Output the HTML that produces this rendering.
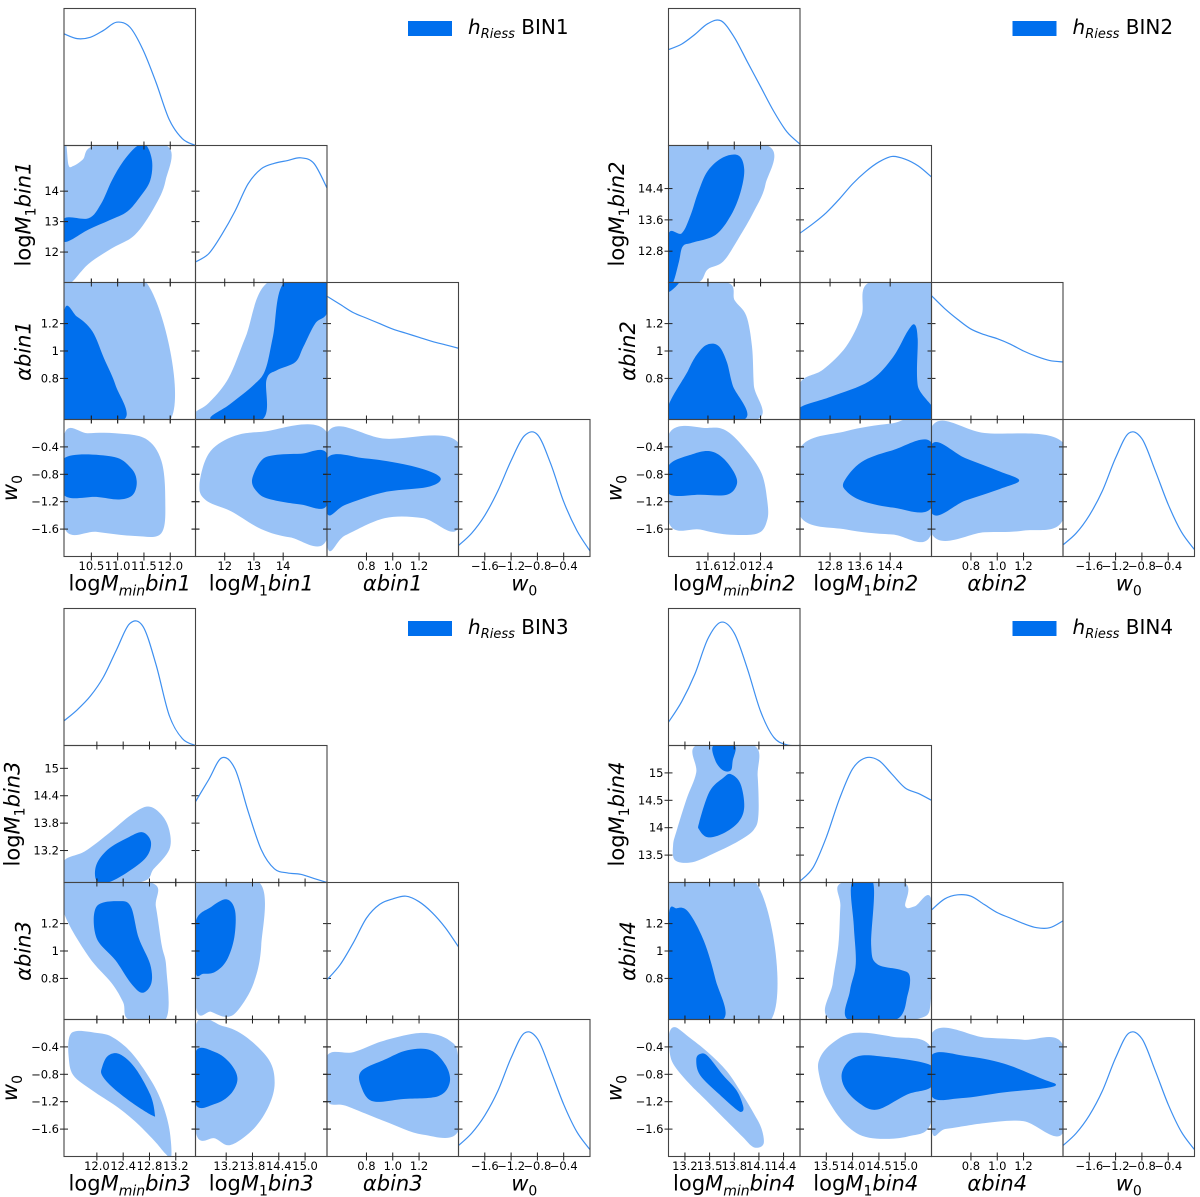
<!DOCTYPE html>
<html><head><meta charset="utf-8">
<style>
html,body{margin:0;padding:0;background:#fff;}
svg{display:block;font-family:"DejaVu Sans","Liberation Sans",sans-serif;}
</style></head>
<body>
<svg id="chart" width="1200" height="1197" viewBox="0 0 1200 1197" xmlns="http://www.w3.org/2000/svg"></svg>
<script>
// ---------------- data ----------------
const limBin1 = [[9.98,12.48],[11.0,15.5],[0.5,1.5],[-2.0,0.0]];
const limBin2 = [[11.0,13.0],[12.0,15.5],[0.5,1.5],[-2.0,0.0]];
const limBin3 = [[11.5,13.5],[12.5,15.5],[0.5,1.5],[-2.0,0.0]];
const limBin4 = [[13.0,14.6],[13.0,15.5],[0.5,1.5],[-2.0,0.0]];
const ticksBin1 = [[10.5,11.0,11.5,12.0],[12,13,14],[0.8,1.0,1.2],[-1.6,-1.2,-0.8,-0.4]];
const ticksBin2 = [[11.6,12.0,12.4],[12.8,13.6,14.4],[0.8,1.0,1.2],[-1.6,-1.2,-0.8,-0.4]];
const ticksBin3 = [[12.0,12.4,12.8,13.2],[13.2,13.8,14.4,15.0],[0.8,1.0,1.2],[-1.6,-1.2,-0.8,-0.4]];
const ticksBin4 = [[13.2,13.5,13.8,14.1,14.4],[13.5,14.0,14.5,15.0],[0.8,1.0,1.2],[-1.6,-1.2,-0.8,-0.4]];
const xLabBin1 = [["10.5","11.0","11.5","12.0"],["12","13","14"],["0.8","1.0","1.2"],["−1.6","−1.2","−0.8","−0.4"]];
const xLabBin2 = [["11.6","12.0","12.4"],["12.8","13.6","14.4"],["0.8","1.0","1.2"],["−1.6","−1.2","−0.8","−0.4"]];
const xLabBin3 = [["12.0","12.4","12.8","13.2"],["13.2","13.8","14.4","15.0"],["0.8","1.0","1.2"],["−1.6","−1.2","−0.8","−0.4"]];
const xLabBin4 = [["13.2","13.5","13.8","14.1","14.4"],["13.5","14.0","14.5","15.0"],["0.8","1.0","1.2"],["−1.6","−1.2","−0.8","−0.4"]];
const yLabBin1 = [null,["12","13","14"],["0.8","1","1.2"],["−1.6","−1.2","−0.8","−0.4"]];
const yLabBin2 = [null,["12.8","13.6","14.4"],["0.8","1","1.2"],["−1.6","−1.2","−0.8","−0.4"]];
const yLabBin3 = [null,["13.2","13.8","14.4","15"],["0.8","1","1.2"],["−1.6","−1.2","−0.8","−0.4"]];
const yLabBin4 = [null,["13.5","14","14.5","15"],["0.8","1","1.2"],["−1.6","−1.2","−0.8","−0.4"]];
const margBin1 = [[.815,.78,.79,.84,.90,.865,.70,.46,.19,.05,0],
                  [.15,.21,.35,.52,.72,.83,.87,.89,.91,.87,.69],
                  [.90,.84,.78,.74,.70,.66,.63,.60,.57,.545,.52],
                  [.08,.17,.30,.48,.70,.88,.89,.68,.40,.19,.04]];
const margBin2 = [[.70,.74,.81,.89,.91,.79,.61,.43,.25,.10,.01],
                  [.36,.43,.51,.61,.72,.81,.88,.92,.90,.85,.77],
                  [.904,.81,.73,.66,.62,.59,.55,.50,.46,.43,.42],
                  [.085,.17,.30,.48,.72,.90,.86,.63,.38,.18,.05]];
const margBin3 = [[.18,.26,.36,.50,.70,.89,.87,.59,.22,.05,0],
                  [.59,.75,.91,.83,.52,.24,.10,.07,.06,.03,0],
                  [.29,.40,.56,.74,.84,.88,.90,.86,.78,.67,.53],
                  [.08,.17,.30,.48,.72,.90,.86,.63,.38,.18,.05]];
const margBin4 = [[.17,.32,.52,.78,.90,.82,.56,.25,.06,.005,0],
                  [.01,.11,.33,.61,.83,.91,.89,.79,.69,.65,.60],
                  [.80,.88,.91,.90,.84,.78,.74,.70,.67,.67,.72],
                  [.08,.17,.30,.48,.72,.90,.86,.63,.38,.18,.05]];
const lightBin1 = {
 "1,0":[[[0,1],[.018,1],[.035,.856],[.07,.85],[.143,.898],[.246,1],[.778,1],[.772,.743],[.684,.545],[.538,.347],[.363,.249],[.187,.136],[.056,0],[0,0]]],
 "2,0":[[[0,1],[.626,1],[.81,0],[0,0]]],
 "2,1":[[[0,0],[0,.053],[.1,.12],[.25,.3],[.38,.6],[.55,1],[1,1],[1,0]]],
 "3,0":[[[0,.885],[.18,.9],[.39,.9],[.62,.86],[.74,.7],[.77,.42],[.74,.17],[.54,.15],[.25,.18],[0,.217]]],
 "3,1":[[[.03,.52],[.1,.75],[.27,.87],[.5,.91],[1,.905],[1,.13],[.72,.14],[.5,.2],[.27,.33],[.08,.41]]],
 "3,2":[[[0,.9],[.44,.86],[1,.83],[1,.21],[.73,.28],[.44,.28],[.14,.155],[0,.084]]]
};
const darkBin1 = {
 "1,0":[[[0,.466],[.187,.469],[.281,.573],[.363,.743],[.45,.884],[.553,.994],[.626,1],[.67,.884],[.655,.743],[.582,.63],[.48,.517],[.348,.455],[.187,.387],[0,.297]]],
 "2,0":[[[0,.778],[.1,.75],[.216,.643],[.304,.447],[.392,.25],[.456,0],[0,0]]],
 "2,1":[[[.12,0],[.26,.11],[.44,.25],[.53,.36],[.59,.61],[.675,1],[1,1],[1,.78],[.91,.7],[.82,.53],[.76,.42],[.62,.36],[.54,.29],[.508,0]]],
 "3,0":[[[0,.716],[.363,.73],[.509,.646],[.553,.548],[.523,.45],[.421,.416],[.246,.435],[0,.449]]],
 "3,1":[[[.43,.56],[.5,.7],[.6,.74],[.8,.75],[1,.75],[1,.375],[.8,.38],[.56,.42],[.47,.47]]],
 "3,2":[[[0,.716],[.29,.716],[.58,.674],[.79,.618],[.865,.562],[.76,.506],[.435,.469],[.143,.379],[0,.317]]]
};
const lightBin2 = {
 "1,0":[[[0,1],[.75,1],[.737,.715],[.649,.518],[.532,.321],[.415,.152],[.298,.096],[.225,0],[0,0]]],
 "2,0":[[[0,1],[.444,1],[.503,.87],[.591,.758],[.635,.533],[.649,.25],[.673,0],[0,0]]],
 "2,1":[[[0,0],[0,.265],[.175,.364],[.351,.533],[.468,.758],[.526,1],[1,1],[1,0]]],
 "3,0":[[[0,.887],[.298,.938],[.444,.915],[.591,.775],[.708,.606],[.751,.408],[.751,.268],[.678,.169],[.444,.161],[.24,.197],[0,.254]]],
 "3,1":[[[0,.789],[.351,.915],[.702,.972],[1,.986],[1,.169],[.702,.161],[.351,.197],[0,.296]]],
 "3,2":[[[0,.944],[.404,.901],[1,.831],[1,.268],[.699,.189],[.404,.177],[0,.169]]]
};
const darkBin2 = {
 "1,0":[[[0,.353],[.1,.359],[.167,.489],[.225,.657],[.298,.814],[.415,.913],[.532,.927],[.576,.825],[.547,.657],[.474,.489],[.357,.347],[.181,.291],[.108,.263],[.079,.15],[.035,0],[0,0]]],
 "2,0":[[[0,0],[.152,.363],[.24,.504],[.313,.552],[.386,.532],[.444,.419],[.488,.25],[.576,0]],[[0,1],[.08,1],[0,.93]]],
 "2,1":[[[0,.087],[.234,.166],[.526,.279],[.702,.448],[.819,.645],[.871,.693],[.895,.589],[.895,.251],[.98,0],[0,0]]],
 "3,0":[[[0,.662],[.181,.746],[.313,.769],[.415,.718],[.503,.606],[.518,.521],[.444,.451],[.24,.451],[0,.459]]],
 "3,1":[[[.336,.549],[.468,.69],[.702,.775],[1,.831],[1,.358],[.702,.358],[.468,.408],[.351,.479]]],
 "3,2":[[[0,.817],[.257,.718],[.52,.62],[.667,.555],[.52,.493],[.257,.408],[0,.318]]]
};
const lightBin3 = {
 "1,0":[[[0,.157],[.158,.227],[.333,.353],[.509,.493],[.64,.555],[.743,.493],[.801,.381],[.801,.241],[.684,.101],[.567,0],[0,0]]],
 "2,0":[[[0,1],[.655,1],[.699,.822],[.743,.543],[.778,.376],[.772,0],[.494,0],[.45,.125],[.363,.265],[.187,.46],[0,.777]]],
 "2,1":[[[0,1],[.485,1],[.5,.543],[.442,.265],[.325,.07],[.237,.019],[.12,.056],[0,.111]]],
 "3,0":[[[.041,.874],[.099,.916],[.246,.902],[.363,.874],[.509,.762],[.655,.566],[.743,.398],[.801,.202],[.816,0],[.772,.02],[.684,.118],[.538,.258],[.392,.37],[.216,.482],[.07,.594],[.035,.734]]],
 "3,1":[[[0,.952],[.208,.952],[.383,.874],[.558,.706],[.602,.538],[.558,.37],[.442,.202],[.266,.084],[.149,.132],[0,.188]]],
 "3,2":[[[0,.734],[.202,.762],[.436,.846],[.728,.902],[.933,.846],[1,.706],[1,.188],[.728,.16],[.436,.258],[.143,.37],[0,.412]]]
};
const darkBin3 = {
 "1,0":[[[.246,.129],[.333,.241],[.48,.325],[.596,.367],[.661,.297],[.626,.185],[.48,.073],[.333,0],[.246,.017]]],
 "2,0":[[[.246,.822],[.421,.864],[.509,.822],[.567,.599],[.655,.404],[.664,.265],[.596,.195],[.509,.265],[.392,.432],[.246,.599]]],
 "2,1":[[[0,.71],[.12,.822],[.237,.877],[.301,.794],[.295,.599],[.237,.432],[.149,.348],[.061,.334],[0,.348]]],
 "3,0":[[[.289,.65],[.333,.734],[.421,.748],[.538,.65],[.655,.454],[.69,.314],[.67,.3],[.509,.398],[.363,.51],[.289,.594]]],
 "3,1":[[[0,.762],[.149,.762],[.266,.678],[.319,.566],[.266,.454],[.149,.384],[0,.384]]],
 "3,2":[[[.26,.622],[.436,.706],[.611,.776],[.787,.776],[.904,.664],[.933,.538],[.845,.44],[.582,.42],[.348,.403],[.26,.51]]]
};
const lightBin4 = {
 "1,0":[[[.064,.385],[.137,.609],[.211,.804],[.211,1],[.649,1],[.678,.777],[.684,.497],[.649,.385],[.532,.302],[.357,.218],[.181,.148],[.05,.162],[.035,.274]]],
 "2,0":[[[0,1],[.664,1],[.781,0],[0,0]]],
 "2,1":[[[.322,1],[.789,1],[.801,.827],[.874,.827],[1,.869],[1,.182],[.877,0],[.234,0],[.249,.266],[.292,.546],[.307,.827]]],
 "3,0":[[[.006,.902],[.05,.944],[.152,.874],[.298,.762],[.444,.622],[.561,.454],[.649,.314],[.708,.202],[.722,.09],[.649,.067],[.561,.146],[.444,.258],[.269,.426],[.152,.538],[.035,.678],[.006,.79]]],
 "3,1":[[[.146,.706],[.234,.818],[.409,.902],[.702,.874],[1,.79],[1,.258],[.819,.146],[.526,.137],[.351,.23],[.205,.426],[.146,.594]]],
 "3,2":[[[0,.896],[.405,.868],[.698,.852],[1,.812],[1,.174],[.698,.258],[.405,.244],[.111,.202],[0,.202]]]
};
const darkBin4 = {
 "1,0":[[[.234,.441],[.313,.665],[.415,.763],[.474,.791],[.547,.721],[.576,.553],[.532,.441],[.415,.358],[.298,.33],[.234,.385]],
        [[.342,1],[.503,1],[.488,.888],[.474,.818],[.415,.818],[.357,.888]]],
 "2,0":[[[0,.742],[.064,.812],[.152,.784],[.269,.574],[.357,.294],[.415,0],[0,0]]],
 "2,1":[[[.395,1],[.556,1],[.541,.546],[.585,.406],[.76,.364],[.833,.322],[.819,.182],[.731,0],[.365,0],[.38,.21],[.424,.406],[.409,.685]]],
 "3,0":[[[.211,.706],[.24,.748],[.298,.734],[.415,.594],[.518,.482],[.567,.37],[.561,.328],[.518,.342],[.386,.454],[.24,.594]]],
 "3,1":[[[.322,.622],[.409,.72],[.585,.734],[1,.664],[1,.51],[.819,.454],[.585,.342],[.439,.398],[.336,.51]]],
 "3,2":[[[0,.739],[.258,.734],[.551,.678],[.845,.566],[.947,.524],[.845,.496],[.551,.468],[.228,.426],[0,.44]]]
};
const binNames = ["BIN1","BIN2","BIN3","BIN4"];
const binSuffix = ["bin1","bin2","bin3","bin4"];

// ---------------- drawing ----------------
const NS = "http://www.w3.org/2000/svg";
const svg = document.getElementById("chart");
const PW = 131.5, PH = 137;
const DARK = "#006FED", LIGHT = "#99C2F6", LINE = "#3d8ff0";
const origins = [[64,8.5],[668.5,8.5],[64,608.5],[668.5,608.5]];
const bins = [
 [limBin1,ticksBin1,xLabBin1,yLabBin1,margBin1,lightBin1,darkBin1],
 [limBin2,ticksBin2,xLabBin2,yLabBin2,margBin2,lightBin2,darkBin2],
 [limBin3,ticksBin3,xLabBin3,yLabBin3,margBin3,lightBin3,darkBin3],
 [limBin4,ticksBin4,xLabBin4,yLabBin4,margBin4,lightBin4,darkBin4]
];
function mk(tag, attrs, parent){
  const e = document.createElementNS(NS, tag);
  for (const k in attrs) e.setAttribute(k, attrs[k]);
  (parent||svg).appendChild(e);
  return e;
}
function closedPath(pts){
  const n = pts.length;
  let d = "M"+pts[0][0].toFixed(2)+","+pts[0][1].toFixed(2);
  for (let i=0;i<n;i++){
    const p0=pts[(i-1+n)%n], p1=pts[i], p2=pts[(i+1)%n], p3=pts[(i+2)%n];
    if (p1.edge && p2.edge && p1.edge.some(e=>p2.edge.includes(e))){ d+="L"+p2[0].toFixed(2)+","+p2[1].toFixed(2); continue; }
    const c1=[p1[0]+(p2[0]-p0[0])/6, p1[1]+(p2[1]-p0[1])/6];
    const c2=[p2[0]-(p3[0]-p1[0])/6, p2[1]-(p3[1]-p1[1])/6];
    d+="C"+c1[0].toFixed(2)+","+c1[1].toFixed(2)+" "+c2[0].toFixed(2)+","+c2[1].toFixed(2)+" "+p2[0].toFixed(2)+","+p2[1].toFixed(2);
  }
  return d+"Z";
}
function openPath(pts){
  let d = "M"+pts[0][0].toFixed(2)+","+pts[0][1].toFixed(2);
  for (let i=0;i<pts.length-1;i++){
    const p0=pts[Math.max(i-1,0)], p1=pts[i], p2=pts[i+1], p3=pts[Math.min(i+2,pts.length-1)];
    const c1=[p1[0]+(p2[0]-p0[0])/6, p1[1]+(p2[1]-p0[1])/6];
    const c2=[p2[0]-(p3[0]-p1[0])/6, p2[1]-(p3[1]-p1[1])/6];
    d+="C"+c1[0].toFixed(2)+","+c1[1].toFixed(2)+" "+c2[0].toFixed(2)+","+c2[1].toFixed(2)+" "+p2[0].toFixed(2)+","+p2[1].toFixed(2);
  }
  return d;
}
const paramNames = ["Mmin","M1","alpha","w0"];
function axisLabel(g, i, sfx, x, y, rotate){
  const t = mk("text",{x:x,y:y,"font-size":"21","text-anchor":"middle",fill:"#000"},g);
  if (rotate) t.setAttribute("transform","rotate(-90 "+x+" "+y+")");
  const add=(s,opts)=>{const ts=mk("tspan",opts||{},t); ts.textContent=s; return ts;};
  if (i===0){ add("log"); add("M",{"font-style":"italic"}); add("min",{"font-style":"italic","font-size":"14",dy:"5"}); add(sfx,{"font-style":"italic",dy:"-5"}); }
  else if (i===1){ add("log"); add("M",{"font-style":"italic"}); add("1",{"font-size":"14",dy:"5"}); add(sfx,{"font-style":"italic",dy:"-5"}); }
  else if (i===2){ add("α"+sfx,{"font-style":"italic"}); }
  else { add("w",{"font-style":"italic"}); add("0",{"font-size":"14",dy:"5"}); }
  return t;
}
let clipId = 0;
bins.forEach((b, bi) => {
  const [lim, ticks, xLab, yLab, marg, light, dark] = b;
  const [ox, oy] = origins[bi];
  const g = mk("g",{});
  
  
  const sx = (c, v) => ox + c*PW + (v - lim[c][0])/(lim[c][1]-lim[c][0])*PW;
  const sy = (r, v) => oy + (r+1)*PH - (v - lim[r][0])/(lim[r][1]-lim[r][0])*PH;
  const nx = (c, f) => sx(c, lim[c][0] + f*(lim[c][1]-lim[c][0]));
  const ny = (r, f) => sy(r, lim[r][0] + f*(lim[r][1]-lim[r][0]));
  for (let r=0;r<4;r++){
    for (let c=0;c<=r;c++){
      const px = ox + c*PW, py = oy + r*PH;
      const pg = mk("g",{},g);
      
      
      const id = "clip"+(clipId++);
      const cp = mk("clipPath",{id:id},pg);
      mk("rect",{x:px,y:py,width:PW,height:PH},cp);
      const inner = mk("g",{"clip-path":"url(#"+id+")"},pg);
      if (r===c){
        const vals = marg[c];
        const pts = vals.map((v,k)=>[nx(c, k/(vals.length-1)), py + PH - v*PH]);
        const pl = mk("path",{d:openPath(pts),fill:"none",stroke:LINE,"stroke-width":"1.2"},inner);
        
        
      } else {
        const key = r+","+c;
        const toPts = poly => poly.map(p=>{
          const q=[nx(c,p[0]), ny(r,p[1])];
          const e=[]; if(p[0]===0)e.push("l"); if(p[0]===1)e.push("r"); if(p[1]===0)e.push("b"); if(p[1]===1)e.push("t");
          q.edge=e; return q;});
        (light[key]||[]).forEach(poly=>{
          const el = mk("path",{d:closedPath(toPts(poly)),fill:LIGHT},inner);
          
          
        });
        (dark[key]||[]).forEach(poly=>{
          const el = mk("path",{d:closedPath(toPts(poly)),fill:DARK},inner);
          
          
        });
      }
      mk("rect",{x:px,y:py,width:PW,height:PH,fill:"none",stroke:"#444","stroke-width":"1.1"},pg);
      if (r>0 || c>0){
        ticks[c].forEach(v=>{
          const x = sx(c, v);
          if (r===3 || r>c) mk("line",{x1:x,x2:x,y1:py+PH-4,y2:py+PH+4,stroke:"#222","stroke-width":"1"},pg);
          if (r>c) mk("line",{x1:x,x2:x,y1:py-4,y2:py+4,stroke:"#222","stroke-width":"1"},pg);
        });
      }
      if (r>c){
        ticks[r].forEach(v=>{
          const y = sy(r, v);
          mk("line",{x1:px-4,x2:px+4,y1:y,y2:y,stroke:"#222","stroke-width":"1"},pg);
          mk("line",{x1:px+PW-4,x2:px+PW+4,y1:y,y2:y,stroke:"#222","stroke-width":"1"},pg);
        });
      }
    }
  }
  for (let c=0;c<4;c++){
    ticks[c].forEach((v,k)=>{
      const t = mk("text",{x:sx(c,v),y:oy+4*PH+13.5,"font-size":"11.5","text-anchor":"middle",fill:"#000"},g);
      t.textContent = xLab[c][k];
      
      
    });
    const al = axisLabel(g, c, binSuffix[bi], ox + c*PW + PW/2, oy+4*PH+34, false);
    
    
  }
  for (let r=1;r<4;r++){
    let maxW = 0;
    ticks[r].forEach((v,k)=>{
      const t = mk("text",{x:ox-5,y:sy(r,v)+4,"font-size":"11.5","text-anchor":"end",fill:"#000"},g);
      t.textContent = yLab[r][k];
      
      
      try { maxW = Math.max(maxW, t.getComputedTextLength()); } catch(e) { maxW = Math.max(maxW, yLab[r][k].length*7); }
    });
    const hasSub = (r===1 || r===3);
    const baseX = ox - maxW - 14 - (hasSub ? 5 : 1);
    const al = axisLabel(g, r, binSuffix[bi], baseX, oy + r*PH + PH/2, true);
    
    
  }
  const lg = mk("g",{},g);
  
  
  mk("rect",{x:ox+344,y:oy+12.5,width:44,height:15,fill:DARK},lg);
  const lt = mk("text",{x:ox+404,y:oy+25.5,"font-size":"20",fill:"#000"},lg);
  const h = mk("tspan",{"font-style":"italic"},lt); h.textContent="h";
  const s = mk("tspan",{"font-style":"italic","font-size":"13",dy:"4"},lt); s.textContent="Riess";
  const bn = mk("tspan",{dy:"-4"},lt); bn.textContent=" "+binNames[bi];
});
</script>
</body></html>
